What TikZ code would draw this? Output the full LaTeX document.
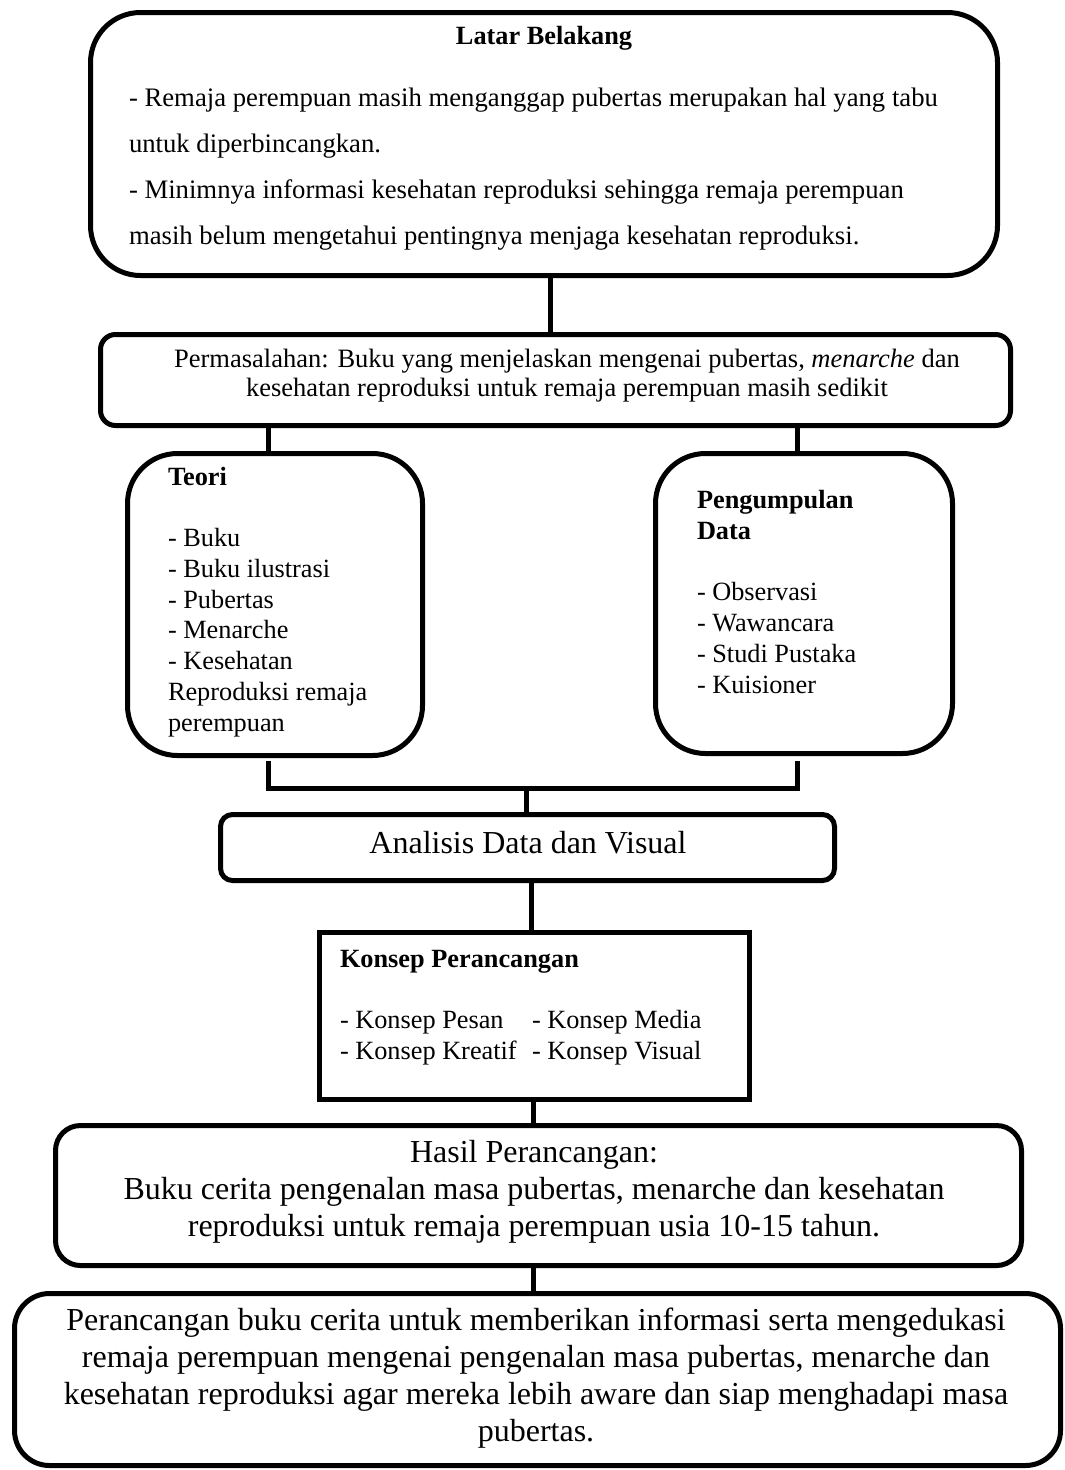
\documentclass[tikz,border=0pt]{standalone}
\usepackage{fontspec}
\setmainfont{Liberation Serif}

\begin{document}
\begin{tikzpicture}[x=1pt, y=-1pt, line width=5pt,
      every node/.append style={inner sep=0pt, outer sep=0pt},
      box/.style={draw, rectangle, minimum width=#1},
      small/.style={font=\fontsize{26.3}{30.7}\selectfont},
      smallbold/.style={font=\fontsize{26.3}{30.7}\selectfont\bfseries},
      big/.style={font=\fontsize{32}{37}\selectfont}]
    \tikzstyle{isi} = [align=left, anchor=base west]
    \useasboundingbox (0,0) rectangle (1065,1470);
    \node (latar) [box=907, minimum height=263, rounded corners=50] at (544,144) {};
    \node (masalah) [box=910, minimum height=91, rounded corners=15] at (555.5,380) {};
    \node (teori) [box=295, minimum height=302, rounded corners=50] at (275,604.5) {};
    \node (data) [box=297, minimum height=300, rounded corners=50] at (804,603.5) {};
    \node (analisis) [box=614, minimum height=66, rounded corners=12] at (527.5,847.5) {};
    \node (konsep) [box=430, minimum height=167] at (534.5,1016) {};
    \node (hasil) [box=966, minimum height=140, rounded corners=25] at (538.5,1195.5) {};
    \node (tujuan) [box=1046, minimum height=172, rounded corners=35] at (537.5,1379.5) {};

    \node (latarjudul) [smallbold, anchor=base] at (544,44) {Latar Belakang};
    \node (latarisi) [isi, font=\fontsize{26.7}{46}\selectfont] at (129,244)
      {- Remaja perempuan masih menganggap pubertas merupakan hal yang tabu\\
       untuk diperbincangkan.\\
       - Minimnya informasi kesehatan reproduksi sehingga remaja perempuan\\
       masih belum mengetahui pentingnya menjaga kesehatan reproduksi.};
    \node (masalahisi) [anchor=base, align=center, font=\fontsize{26.5}{29}\selectfont] at (567,396)
      {Permasalahan: Buku yang menjelaskan mengenai pubertas, \textit{menarche} dan\\
       kesehatan reproduksi untuk remaja perempuan masih sedikit};
    \node (teoriisi) [small, isi] at (168,731)
      {\textbf{Teori}\\[30.7pt]
       - Buku\\- Buku ilustrasi\\- Pubertas\\- Menarche\\- Kesehatan\\
       Reproduksi remaja\\perempuan};
    \node (dataisi) [small, isi] at (697,693)
      {\textbf{Pengumpulan}\\\textbf{Data}\\[30.7pt]
       - Observasi\\- Wawancara\\- Studi Pustaka\\- Kuisioner};
    \node (analisisisi) [big, anchor=base] at (528,853) {Analisis Data dan Visual};
    \node (konsepjudul) [smallbold, isi] at (340,967) {Konsep Perancangan};
    \node (konsepkiri) [small, isi] at (340,1059) {- Konsep Pesan\\- Konsep Kreatif};
    \node (konsepkanan) [small, isi] at (532,1059) {- Konsep Media\\- Konsep Visual};
    \node (hasilisi) [big, anchor=base, align=center] at (534,1236)
      {Hasil Perancangan:\\
       Buku cerita pengenalan masa pubertas, menarche dan kesehatan\\
       reproduksi untuk remaja perempuan usia 10-15 tahun.};
    \node (tujuanisi) [big, anchor=base, align=center] at (536,1441)
      {Perancangan buku cerita untuk memberikan informasi serta mengedukasi\\
       remaja perempuan mengenai pengenalan masa pubertas, menarche dan\\
       kesehatan reproduksi agar mereka lebih aware dan siap menghadapi masa\\
       pubertas.};

    \coordinate (a) at (550,0);
    \coordinate (kiri) at (268,0);
    \coordinate (kanan) at (797,0);
    \coordinate (gabung) at (526,788);
    \coordinate (b) at (531,0);
    \coordinate (c) at (533,0);
    \draw (latar.south -| a) -- (masalah.north -| a);
    \draw (masalah.south -| kiri) -- (teori.north -| kiri);
    \draw (masalah.south -| kanan) -- (data.north -| kanan);
    \draw ([yshift=-5pt]teori.south -| kiri) |- (gabung) -| ([yshift=-7pt]data.south -| kanan);
    \draw (gabung) -- (analisis.north -| gabung);
    \draw (analisis.south -| b) -- (konsep.north -| b);
    \draw (konsep.south -| c) -- (hasil.north -| c);
    \draw (hasil.south -| c) -- (tujuan.north -| c);
\end{tikzpicture}
\end{document}
